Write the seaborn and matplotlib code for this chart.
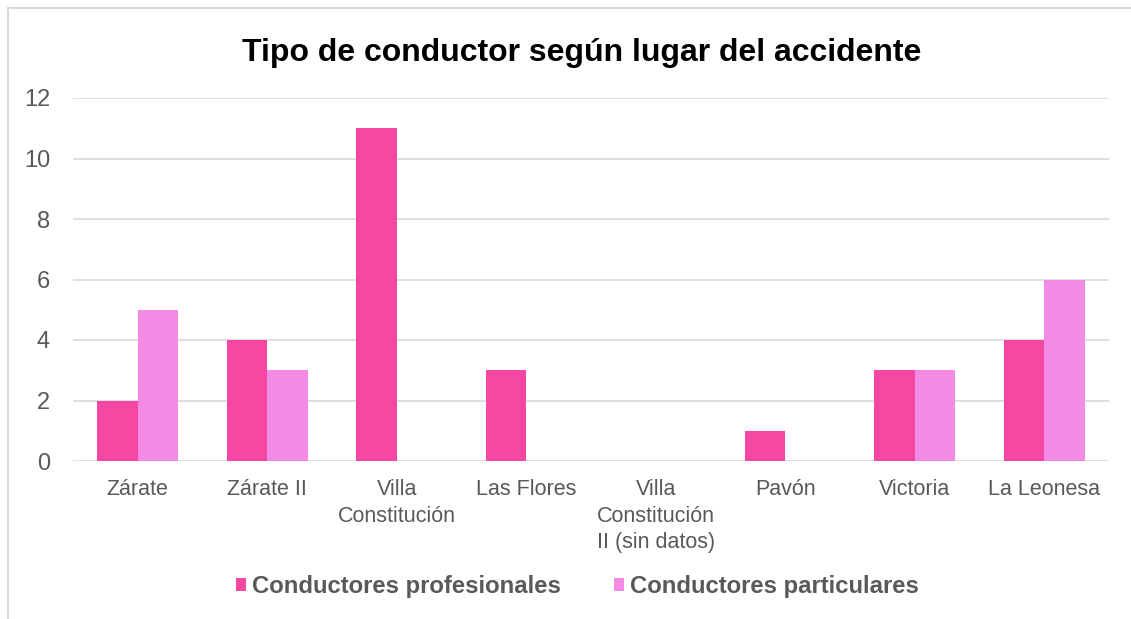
import matplotlib
matplotlib.use("Agg")
import matplotlib.pyplot as plt
import seaborn as sns
import pandas as pd
from matplotlib.patches import Rectangle

lugares = ["Zárate", "Zárate II", "Villa\nConstitución", "Las Flores",
           "Villa\nConstitución\nII (sin datos)", "Pavón", "Victoria", "La Leonesa"]
profesionales = [2, 4, 11, 3, 0, 1, 3, 4]
particulares = [5, 3, 0, 0, 0, 0, 3, 6]
series = ["Conductores profesionales", "Conductores particulares"]
colores = ["#F846A3", "#F28AE6"]

df = pd.DataFrame({
    "lugar": lugares * 2,
    "valor": profesionales + particulares,
    "tipo": [series[0]] * len(lugares) + [series[1]] * len(lugares),
})

sns.set_style("white")
plt.rcParams["font.family"] = ["Liberation Sans", "DejaVu Sans"]
gris = "#595959"

fig = plt.figure(figsize=(11.31, 6.19), dpi=100)
ax = fig.add_axes([73 / 1131, 1 - 461 / 619, (1109 - 73) / 1131, (461 - 98) / 619])

sns.barplot(data=df, x="lugar", y="valor", hue="tipo", palette=colores,
            width=0.625, saturation=1, ax=ax, edgecolor="none")

ax.set_ylim(0, 12)
ax.set_yticks(range(0, 13, 2))
ax.set_xlim(-0.5, len(lugares) - 0.5)
ax.grid(axis="y", color="#d9d9d9", linewidth=1.2)
ax.set_axisbelow(True)
for s in ax.spines.values():
    s.set_visible(False)
ax.tick_params(axis="both", length=0, colors=gris)
ax.tick_params(axis="y", pad=16.5, labelsize=17)
ax.tick_params(axis="x", pad=13, labelsize=15.5)
for lab in ax.get_xticklabels():
    lab.set_linespacing(1.35)
ax.set_xlabel("")
ax.set_ylabel("")

handles, labels = ax.get_legend_handles_labels()
ax.get_legend().remove()
fig.legend(handles, labels, loc="center", bbox_to_anchor=(0.5105, 0.052), ncol=2,
           frameon=False, handlelength=0.45, handleheight=0.45, handletextpad=0.25,
           columnspacing=2.2, prop={"size": 17.2, "weight": "bold"}, labelcolor=gris)

fig.text(0.514, 1 - 53 / 619, "Tipo de conductor según lugar del accidente",
         ha="center", va="center", fontsize=23, fontweight="bold", color="black")

fig.patches.append(Rectangle((8 / 1131, -0.1), 1.2, 1 - 8 / 619 + 0.1,
                             transform=fig.transFigure, fill=False,
                             edgecolor="#d9d9d9", linewidth=1.5))

fig.savefig("out.png", dpi=100)
